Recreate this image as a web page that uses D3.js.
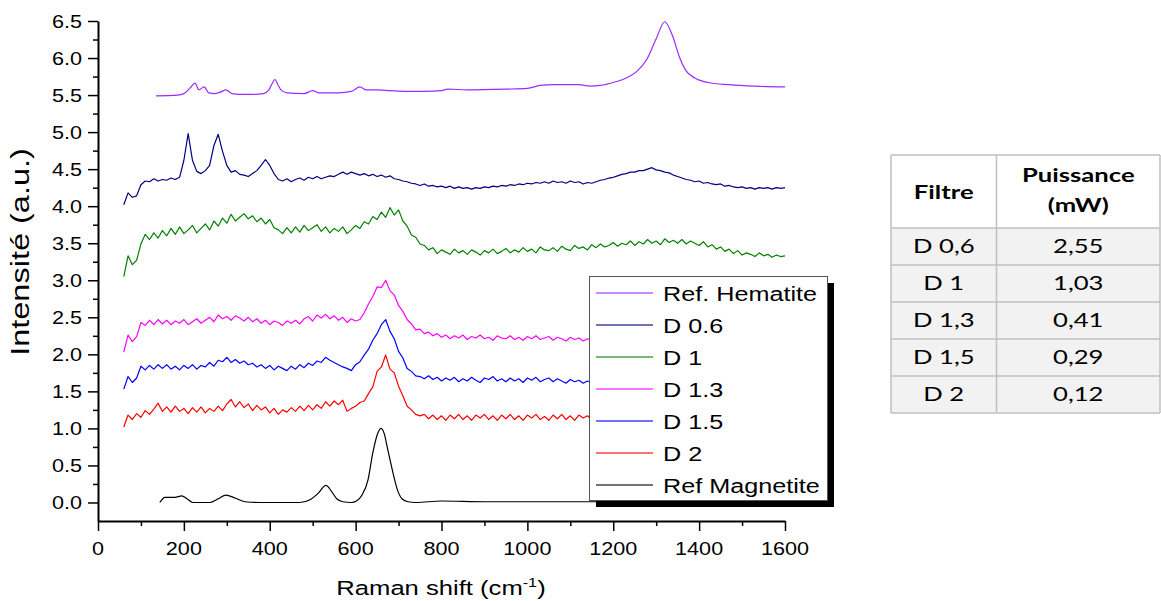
<!DOCTYPE html>
<html>
<head>
<meta charset="utf-8">
<title>Raman spectra - filtres</title>
<script src="https://cdnjs.cloudflare.com/ajax/libs/d3/7.8.5/d3.min.js"></script>
<style>
  body { margin: 0; background: #fff; }
  .chart text { font-family: "Liberation Sans", Arial, sans-serif; fill: #000; }
  .chart .tbl text { font-family: Lato, "Open Sans", sans-serif; fill: #000; }
</style>
</head>
<body>
<svg id="chart" class="chart" width="1161" height="601"></svg>
<script>
// Raman shift grid (cm-1) for the measured spectra
var shift = d3.range(60, 1601, 10)

// D 0.6
var d06 = [
4.02,4.18,4.12,4.14,4.29,4.34,4.33,4.37,4.34,4.36,
4.35,4.38,4.36,4.39,4.62,4.98,4.62,4.47,4.44,4.48,
4.55,4.82,4.97,4.74,4.55,4.46,4.48,4.43,4.42,4.40,
4.44,4.48,4.55,4.63,4.55,4.44,4.36,4.34,4.37,4.33,
4.36,4.38,4.35,4.39,4.37,4.40,4.37,4.39,4.41,4.40,
4.43,4.46,4.43,4.46,4.44,4.42,4.44,4.41,4.43,4.40,
4.42,4.39,4.41,4.37,4.36,4.34,4.33,4.31,4.30,4.28,
4.30,4.27,4.28,4.26,4.27,4.25,4.27,4.24,4.26,4.24,
4.25,4.23,4.25,4.24,4.26,4.25,4.27,4.26,4.28,4.27,
4.29,4.28,4.30,4.29,4.31,4.30,4.32,4.31,4.33,4.31,
4.34,4.32,4.33,4.31,4.34,4.32,4.33,4.30,4.32,4.31,
4.33,4.35,4.36,4.38,4.39,4.41,4.43,4.44,4.46,4.46,
4.48,4.48,4.50,4.52,4.49,4.48,4.46,4.45,4.42,4.40,
4.38,4.36,4.35,4.33,4.34,4.31,4.32,4.30,4.29,4.30,
4.27,4.28,4.26,4.25,4.26,4.24,4.25,4.23,4.25,4.24,
4.25,4.23,4.25,4.24,4.25]

// D 1
var d1 = [
3.05,3.33,3.21,3.27,3.49,3.62,3.55,3.64,3.57,3.67,
3.60,3.70,3.62,3.72,3.63,3.68,3.74,3.64,3.70,3.76,
3.68,3.80,3.73,3.84,3.77,3.89,3.80,3.85,3.90,3.83,
3.87,3.79,3.84,3.76,3.82,3.71,3.68,3.63,3.71,3.64,
3.72,3.65,3.74,3.67,3.71,3.75,3.66,3.72,3.64,3.70,
3.66,3.72,3.63,3.68,3.74,3.70,3.79,3.76,3.86,3.82,
3.92,3.85,3.98,3.88,3.95,3.80,3.73,3.61,3.58,3.49,
3.47,3.41,3.44,3.36,3.41,3.38,3.35,3.42,3.37,3.40,
3.35,3.41,3.38,3.34,3.40,3.37,3.42,3.36,3.39,3.43,
3.37,3.41,3.38,3.44,3.39,3.42,3.37,3.45,3.41,3.40,
3.44,3.39,3.46,3.42,3.40,3.47,3.43,3.45,3.41,3.48,
3.44,3.49,3.45,3.47,3.51,3.46,3.50,3.48,3.53,3.47,
3.52,3.49,3.55,3.50,3.53,3.48,3.56,3.51,3.54,3.50,
3.55,3.49,3.53,3.50,3.47,3.52,3.45,3.48,3.42,3.45,
3.39,3.42,3.36,3.40,3.34,3.37,3.35,3.32,3.37,3.33,
3.35,3.31,3.34,3.32,3.33]

// D 1.3 (rest is behind the legend)
var d13 = [
2.03,2.26,2.17,2.24,2.43,2.39,2.46,2.40,2.47,2.41,
2.46,2.40,2.45,2.42,2.47,2.40,2.44,2.48,2.42,2.46,
2.50,2.44,2.53,2.48,2.51,2.46,2.52,2.49,2.45,2.50,
2.44,2.48,2.42,2.46,2.40,2.45,2.43,2.39,2.45,2.42,
2.46,2.41,2.48,2.51,2.45,2.53,2.49,2.54,2.48,2.52,
2.46,2.50,2.43,2.48,2.45,2.47,2.56,2.68,2.78,2.91,
2.90,3.00,2.86,2.80,2.66,2.58,2.47,2.41,2.33,2.34,
2.28,2.30,2.25,2.28,2.23,2.26,2.21,2.25,2.22,2.26,
2.20,2.24,2.22,2.26,2.21,2.23,2.19,2.25,2.22,2.21,
2.25,2.20,2.23,2.19,2.24,2.21,2.25,2.20,2.22,2.24,
2.19,2.23,2.21,2.18,2.23,2.20,2.22,2.18,2.21,2.19]

// D 1.5
var d15 = [
1.53,1.70,1.62,1.68,1.84,1.79,1.85,1.80,1.86,1.81,
1.86,1.80,1.84,1.79,1.85,1.81,1.86,1.80,1.85,1.83,
1.89,1.84,1.92,1.90,1.96,1.89,1.93,1.88,1.91,1.86,
1.88,1.83,1.86,1.81,1.85,1.79,1.84,1.81,1.78,1.84,
1.80,1.86,1.82,1.88,1.85,1.91,1.89,1.96,1.92,1.89,
1.86,1.83,1.81,1.78,1.86,1.90,1.99,2.07,2.19,2.28,
2.40,2.47,2.31,2.21,2.04,1.95,1.81,1.77,1.71,1.70,
1.67,1.71,1.66,1.69,1.64,1.68,1.65,1.69,1.63,1.67,
1.64,1.69,1.65,1.62,1.68,1.66,1.70,1.64,1.67,1.63,
1.68,1.64,1.67,1.62,1.68,1.65,1.69,1.63,1.66,1.68,
1.63,1.67,1.64,1.61,1.66,1.63,1.65,1.61,1.64,1.62]

// D 2
var d2 = [
1.02,1.18,1.12,1.20,1.15,1.24,1.19,1.26,1.34,1.23,
1.29,1.22,1.30,1.23,1.27,1.20,1.28,1.22,1.29,1.21,
1.27,1.23,1.30,1.24,1.33,1.39,1.29,1.36,1.28,1.33,
1.24,1.31,1.25,1.29,1.21,1.27,1.19,1.25,1.22,1.28,
1.23,1.30,1.24,1.31,1.25,1.32,1.27,1.36,1.30,1.37,
1.32,1.38,1.23,1.27,1.30,1.35,1.37,1.47,1.56,1.77,
1.83,1.99,1.80,1.75,1.57,1.44,1.30,1.25,1.19,1.17,
1.19,1.13,1.18,1.12,1.17,1.11,1.18,1.13,1.19,1.12,
1.17,1.11,1.18,1.14,1.19,1.12,1.17,1.11,1.18,1.13,
1.19,1.12,1.17,1.11,1.18,1.14,1.19,1.12,1.16,1.11,
1.18,1.13,1.19,1.12,1.17,1.11,1.18,1.14,1.17,1.12]

// reference spectra [shift, intensity]
var hematite = [[135,5.49],[185,5.50],[200,5.52],[215,5.60],[226,5.66],[235,5.57],[247,5.61],[258,5.53],
  [270,5.52],[285,5.54],[298,5.57],[312,5.52],[330,5.51],[360,5.51],[385,5.52],[398,5.57],[405,5.65],
  [412,5.71],[419,5.64],[426,5.57],[440,5.53],[480,5.52],[500,5.56],[515,5.53],[560,5.53],[590,5.55],
  [610,5.61],[625,5.57],[650,5.57],[680,5.56],[720,5.55],[760,5.55],[800,5.56],[815,5.58],[860,5.57],
  [950,5.58],[1000,5.59],[1030,5.63],[1060,5.64],[1120,5.64],[1145,5.62],[1170,5.63],[1200,5.67],
  [1230,5.73],[1255,5.82],[1278,5.98],[1300,6.26],[1320,6.49],[1338,6.30],[1355,6.00],[1368,5.84],
  [1390,5.73],[1420,5.67],[1470,5.64],[1530,5.62],[1600,5.61]]

var magnetite = [[144,0.00],[156,0.07],[179,0.07],[195,0.09],[207,0.05],[221,0.00],[261,0.00],[280,0.05],
  [298,0.10],[319,0.06],[342,0.01],[377,0.00],[470,0.00],[495,0.04],[512,0.12],[531,0.23],[545,0.14],
  [556,0.05],[570,0.01],[590,0.00],[602,0.02],[615,0.10],[629,0.31],[640,0.67],[652,0.94],[659,1.00],
  [666,0.94],[675,0.71],[687,0.40],[698,0.16],[708,0.05],[722,0.01],[740,0.00],[800,0.02],[900,0.01],
  [1000,0.01],[1200,0.01]]

var legendNames = ["Ref. Hematite", "D 0.6", "D 1", "D 1.3", "D 1.5", "D 2", "Ref Magnetite"]
var colors = ["#9b2bff", "#000080", "#008000", "#ff00ff", "#0000ff", "#ff0000", "#000000"]

// table
var filtres = ["D 0,6", "D 1", "D 1,3", "D 1,5", "D 2"]
var puissances = ["2,55", "1,03", "0,41", "0,29", "0,12"]

var svg = d3.select("#chart")
var sx = 1.2   // text is horizontally stretched in the original

var x = d3.scaleLinear().domain([0, 1600]).range([98, 785])
var y = d3.scaleLinear().domain([-0.25, 6.5]).range([521, 21])

function grid(vals) { return vals.map(function(v, i) { return [shift[i], v] }) }

var series = [
  {pts: hematite, smooth: true},
  {pts: grid(d06)},
  {pts: grid(d1)},
  {pts: grid(d13)},
  {pts: grid(d15)},
  {pts: grid(d2)},
  {pts: magnetite, smooth: true}
]

var plot = svg.append("g")
series.forEach(function(s, i) {
  var line = d3.line()
    .x(function(d) { return x(d[0]) })
    .y(function(d) { return y(d[1]) })
    .curve(s.smooth ? d3.curveMonotoneX : d3.curveLinear)
  plot.append("path")
    .attr("d", line(s.pts))
    .attr("fill", "none")
    .attr("stroke", colors[i])
    .attr("stroke-width", 1.2)
    .attr("stroke-linejoin", "round")
})

// axes
svg.append("g").attr("transform", "translate(0,521)")
  .call(d3.axisBottom(x).tickValues(d3.range(0, 1601, 200)).tickSize(10).tickSizeOuter(0).tickFormat(""))
svg.append("g").attr("transform", "translate(0,521)")
  .call(d3.axisBottom(x).tickValues(d3.range(100, 1600, 200)).tickSize(5).tickSizeOuter(0).tickFormat(""))
  .select(".domain").remove()

var yMajor = d3.range(0, 14).map(function(i) { return i * 0.5 })
var yMinor = d3.range(0, 13).map(function(i) { return i * 0.5 + 0.25 })
svg.append("g").attr("transform", "translate(98,0)")
  .call(d3.axisLeft(y).tickValues(yMajor).tickSize(10).tickSizeOuter(0).tickFormat(""))
svg.append("g").attr("transform", "translate(98,0)")
  .call(d3.axisLeft(y).tickValues(yMinor).tickSize(5).tickSizeOuter(0).tickFormat(""))
  .select(".domain").remove()

svg.selectAll(".domain").attr("stroke-width", 2)
svg.selectAll(".tick line").attr("stroke-width", 1.5)

svg.append("g").selectAll("text").data(d3.range(0, 1601, 200)).enter().append("text")
  .attr("transform", function(d) { return "translate(" + x(d) + ",555) scale(" + sx + ",1)" })
  .attr("text-anchor", "middle")
  .style("font-size", "18px")
  .text(function(d) { return d })

svg.append("g").selectAll("text").data(yMajor).enter().append("text")
  .attr("transform", function(d) { return "translate(82," + (y(d) + 6.5) + ") scale(" + sx + ",1)" })
  .attr("text-anchor", "end")
  .style("font-size", "18px")
  .text(function(d) { return d3.format(".1f")(d) })

// axis titles
var xt = svg.append("text")
  .attr("transform", "translate(441,595) scale(1.25,1)")
  .attr("text-anchor", "middle")
  .style("font-size", "20.5px")
xt.append("tspan").text("Raman shift (cm")
xt.append("tspan").attr("dy", -8).style("font-size", "13px").text("-1")
xt.append("tspan").attr("dy", 8).text(")")

svg.append("text")
  .attr("transform", "translate(29,252) rotate(-90) scale(1.25,1)")
  .attr("text-anchor", "middle")
  .style("font-size", "26px")
  .text("Intensité (a.u.)")

// legend
var lg = svg.append("g")
lg.append("rect").attr("x", 596).attr("y", 283).attr("width", 238).attr("height", 224).attr("fill", "#000")
lg.append("rect").attr("x", 589.5).attr("y", 276.5).attr("width", 238).attr("height", 224)
  .attr("fill", "#fff").attr("stroke", "#555").attr("stroke-width", 1)
legendNames.forEach(function(n, i) {
  var cy = 293 + i * 32
  lg.append("line").attr("x1", 596).attr("x2", 653).attr("y1", cy).attr("y2", cy)
    .attr("stroke", colors[i]).attr("stroke-opacity", 0.55).attr("stroke-width", 2)
  lg.append("text")
    .attr("transform", "translate(663," + (cy + 7.5) + ") scale(1.2,1)")
    .style("font-size", "21px")
    .text(n)
})

// table
var colX = [891, 996.5, 1160]
var rowY = [155, 228, 265, 302, 339, 376, 413]
var tb = svg.append("g").attr("class", "tbl")
filtres.forEach(function(f, i) {
  tb.append("rect").attr("x", colX[0]).attr("y", rowY[i + 1])
    .attr("width", colX[2] - colX[0]).attr("height", rowY[i + 2] - rowY[i + 1]).attr("fill", "#f2f2f2")
})
rowY.forEach(function(ry) {
  tb.append("line").attr("x1", colX[0]).attr("x2", colX[2]).attr("y1", ry).attr("y2", ry)
    .attr("stroke", "#bfbfbf").attr("stroke-width", 1.5)
})
colX.forEach(function(cx) {
  tb.append("line").attr("x1", cx).attr("x2", cx).attr("y1", rowY[0]).attr("y2", rowY[6])
    .attr("stroke", "#bfbfbf").attr("stroke-width", 1.5)
})
var tsx = 1.35
function cell(txt, cx, by, bold) {
  tb.append("text")
    .attr("transform", "translate(" + cx + "," + by + ") scale(" + tsx + ",1)")
    .attr("text-anchor", "middle")
    .style("font-size", "19px")
    .style("font-weight", bold ? "bold" : "normal")
    .text(txt)
}
var c1 = (colX[0] + colX[1]) / 2, c2 = (colX[1] + colX[2]) / 2
cell("Filtre", c1, 199, true)
cell("Puissance", c2, 182, true)
cell("(mW)", c2, 212, true)
filtres.forEach(function(f, i) {
  var by = (rowY[i + 1] + rowY[i + 2]) / 2 + 6.5
  cell(f, c1, by)
  cell(puissances[i], c2, by)
})
</script>
</body>
</html>
